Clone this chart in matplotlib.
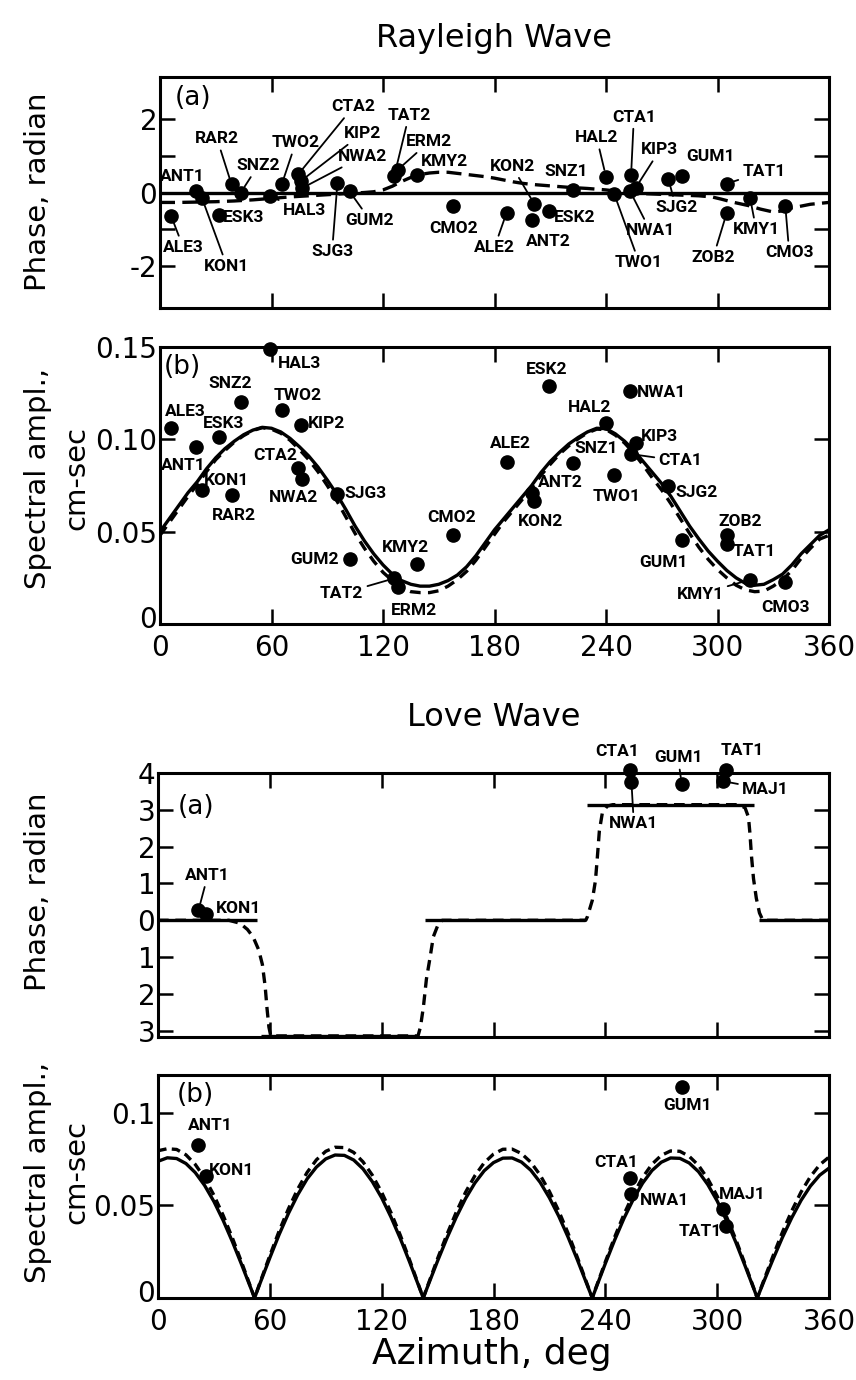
import matplotlib
matplotlib.use("Agg")
import matplotlib.pyplot as plt
import matplotlib.transforms as mtransforms
import numpy as np

plt.rcParams['font.family'] = ['DejaVu Sans']

# ---------------- DATA ----------------
# Rayleigh wave stations (shared azimuths, deg)
R_STA = ["ALE3", "ANT1", "KON1", "ESK3", "RAR2", "SNZ2", "HAL3", "TWO2", "CTA2", "KIP2", "NWA2",
         "SJG3", "GUM2", "TAT2", "ERM2", "KMY2", "CMO2", "ALE2", "KON2", "ANT2", "ESK2", "SNZ1",
         "HAL2", "TWO1", "NWA1", "CTA1", "KIP3", "SJG2", "GUM1", "ZOB2", "TAT1", "KMY1", "CMO3"]
R_AZ = [6, 19.5, 22.5, 31.5, 38.5, 43.5, 59, 65.5, 74.5, 76, 76.5,
        95.5, 102, 126, 128, 138.5, 157.5, 186.5, 201.5, 200, 209.5, 222.5,
        240, 244.5, 253, 253.5, 256, 273.5, 281, 305, 305, 317.5, 336.5]
R_PHASE = [-0.64, 0.05, -0.14, -0.6, 0.22, 0.0, -0.1, 0.22, 0.5, 0.32, 0.12,
           0.27, 0.03, 0.44, 0.62, 0.48, -0.38, -0.55, -0.32, -0.75, -0.51, 0.08,
           0.43, -0.05, 0.03, 0.48, 0.13, 0.38, 0.46, -0.55, 0.24, -0.14, -0.37]
R_AMP = [0.106, 0.096, 0.0725, 0.101, 0.0697, 0.12, 0.149, 0.116, 0.0846, 0.108, 0.0786,
         0.0703, 0.035, 0.0247, 0.0198, 0.0324, 0.0484, 0.0876, 0.0665, 0.071, 0.129, 0.087,
         0.109, 0.0806, 0.126, 0.092, 0.098, 0.075, 0.0455, 0.048, 0.0434, 0.024, 0.0225]

# Rayleigh theoretical phase
R_PH_SOLID_AZ = [0, 360]
R_PH_SOLID = [0, 0]
R_PH_DASH_AZ = [0, 10, 20, 30, 40, 50, 60, 70, 80, 90, 100, 110, 115, 120, 125, 130, 135, 140, 145, 150,
                155, 160, 165, 170, 175, 180, 185, 190, 195, 200, 210, 220, 230, 240, 250, 260, 270, 280,
                290, 297, 302, 308, 317, 323, 330, 335, 340, 350, 360]
R_PH_DASH = [-0.27, -0.27, -0.26, -0.25, -0.23, -0.2, -0.16, -0.12, -0.09, -0.06, -0.03, 0.0, 0.02, 0.07,
             0.17, 0.3, 0.41, 0.49, 0.53, 0.55, 0.55, 0.52, 0.49, 0.46, 0.43, 0.39, 0.34, 0.29, 0.25, 0.22,
             0.18, 0.14, 0.11, 0.07, 0.01, -0.03, -0.05, -0.07, -0.09, -0.12, -0.18, -0.26, -0.36, -0.45,
             -0.53, -0.5, -0.42, -0.32, -0.27]

# Rayleigh theoretical amplitude (5-degree grid)
R_AMP_AZ = [0, 5, 10, 15, 20, 25, 30, 35, 40, 45, 50, 55, 60, 65, 70, 75, 80, 85, 90, 95,
            100, 105, 110, 115, 120, 125, 130, 135, 140, 145, 150, 155, 160, 165, 170, 175, 180,
            185, 190, 195, 200, 205, 210, 215, 220, 225, 230, 235, 240, 245, 250, 255, 260, 265,
            270, 275, 280, 285, 290, 295, 300, 305, 310, 315, 320, 325, 330, 335, 340, 345, 350,
            355, 360]
R_AMP_SOLID = [0.050, 0.057, 0.064, 0.071, 0.077, 0.084, 0.090, 0.095, 0.099, 0.1025, 0.105, 0.1065,
               0.106, 0.104, 0.1005, 0.096, 0.091, 0.085, 0.078, 0.0705, 0.062, 0.053, 0.045, 0.038,
               0.032, 0.027, 0.0235, 0.0215, 0.0205, 0.0205, 0.0215, 0.0235, 0.0265, 0.031, 0.037,
               0.044, 0.051, 0.057, 0.063, 0.069, 0.075, 0.082, 0.088, 0.093, 0.0975, 0.101, 0.104,
               0.106, 0.1058, 0.103, 0.099, 0.094, 0.088, 0.082, 0.076, 0.069, 0.061, 0.053, 0.046,
               0.0395, 0.034, 0.029, 0.025, 0.022, 0.021, 0.0215, 0.024, 0.027, 0.032, 0.038, 0.043,
               0.048, 0.051]
R_AMP_DASH = [0.048, 0.055, 0.062, 0.069, 0.0755, 0.0825, 0.089, 0.094, 0.0985, 0.102, 0.1048, 0.1063,
              0.1055, 0.1033, 0.0995, 0.0945, 0.089, 0.0825, 0.075, 0.067, 0.058, 0.049, 0.041, 0.034,
              0.028, 0.0235, 0.0195, 0.0175, 0.017, 0.017, 0.018, 0.0205, 0.024, 0.0285, 0.0345,
              0.0415, 0.0485, 0.0555, 0.0615, 0.0675, 0.0735, 0.0805, 0.0865, 0.092, 0.0965, 0.1003,
              0.1035, 0.1055, 0.1053, 0.1023, 0.098, 0.0925, 0.086, 0.079, 0.0725, 0.065, 0.057,
              0.049, 0.0415, 0.035, 0.0295, 0.025, 0.021, 0.0185, 0.0175, 0.0178, 0.0205, 0.024,
              0.029, 0.0355, 0.041, 0.046, 0.048]

# Love wave stations
L_STA = ["ANT1", "KON1", "CTA1", "NWA1", "GUM1", "TAT1", "MAJ1"]
L_AZ = [21.7, 26, 253, 254, 281, 305, 303]
L_PHASE = [0.27, 0.18, 4.08, 3.76, 3.7, 4.08, 3.78]
L_AMP = [0.0828, 0.066, 0.065, 0.056, 0.114, 0.0389, 0.0478]

# Love theoretical phase
L_PH_SOLID_AZ = [0, 53, np.nan, 55, 138, np.nan, 143.5, 229.3, np.nan, 230.4, 320, np.nan, 322.7, 360]
L_PH_SOLID = [0, 0, np.nan, -3.14, -3.14, np.nan, 0, 0, np.nan, 3.14, 3.14, np.nan, 0, 0]
L_PH_DASH_AZ = [0, 38, 44, 48, 51, 54, 56, 57.5, 58.5, 59.5, 60.5, 139.5, 140.8, 142.4, 144, 146, 147.7,
                150.4, 152.5, 229.5, 230.4, 233, 234.7, 235.7, 236.8, 238.4, 241, 244, 312, 315, 316.8,
                317.6, 318.4, 319.5, 321, 322.7, 324.5, 360]
L_PH_DASH = [0, 0, -0.08, -0.25, -0.45, -0.8, -1.2, -1.8, -2.4, -2.9, -3.14, -3.14, -2.9, -2.35, -1.6,
             -1.0, -0.45, -0.1, 0, 0, 0.1, 0.54, 1.08, 1.7, 2.43, 2.92, 3.1, 3.14, 3.14, 3.05, 2.8, 2.35,
             1.75, 1.13, 0.6, 0.2, 0, 0]

# Love theoretical amplitude
L_AMP_AZ = [0, 5, 10, 15, 20, 25, 30, 35, 40, 45, 50, 51.8,
            55, 60, 65, 70, 75, 80, 85, 90, 95, 100, 105, 110, 115, 120, 125, 130, 135, 140, 142.3,
            145, 150, 155, 160, 165, 170, 175, 180, 185, 190, 195, 200, 205, 210, 215, 220, 225, 230, 233,
            235, 240, 245, 250, 255, 260, 265, 270, 275, 280, 285, 290, 295, 300, 305, 310, 315, 320, 321.5,
            325, 330, 335, 340, 345, 350, 355, 360]
L_AMP_SOLID = [0.0738, 0.0757, 0.0753, 0.0726, 0.0677, 0.0608, 0.0521, 0.0418, 0.0302, 0.0177, 0.0048, 0.0,
               0.0086, 0.0217, 0.0343, 0.0457, 0.0558, 0.0643, 0.0707, 0.0751, 0.0772, 0.0770, 0.0745,
               0.0697, 0.0628, 0.0541, 0.0437, 0.0321, 0.0194, 0.0062, 0.0,
               0.0071, 0.0200, 0.0323, 0.0436, 0.0537, 0.0621, 0.0687, 0.0731, 0.0755, 0.0756, 0.0734,
               0.0690, 0.0625, 0.0541, 0.0442, 0.0329, 0.0206, 0.0077, 0.0,
               0.0054, 0.0186, 0.0313, 0.0430, 0.0533, 0.0620, 0.0688, 0.0733, 0.0756, 0.0754, 0.0729,
               0.0682, 0.0612, 0.0524, 0.0419, 0.0301, 0.0173, 0.0041, 0.0,
               0.0088, 0.0210, 0.0327, 0.0433, 0.0527, 0.0604, 0.0663, 0.0701]
L_AMP_DASH = [0.0795, 0.0806, 0.0802, 0.0773, 0.0721, 0.0648, 0.0555, 0.0445, 0.0322, 0.0189, 0.0051, 0.0,
              0.0091, 0.0229, 0.0362, 0.0482, 0.0589, 0.0678, 0.0746, 0.0792, 0.0814, 0.0812, 0.0786,
              0.0735, 0.0663, 0.0571, 0.0461, 0.0339, 0.0205, 0.0065, 0.0,
              0.0075, 0.0213, 0.0343, 0.0463, 0.0571, 0.0660, 0.0730, 0.0777, 0.0803, 0.0804, 0.0780,
              0.0733, 0.0664, 0.0575, 0.0470, 0.0350, 0.0219, 0.0082, 0.0,
              0.0057, 0.0195, 0.0329, 0.0452, 0.0560, 0.0651, 0.0722, 0.0770, 0.0794, 0.0792, 0.0765,
              0.0716, 0.0643, 0.0550, 0.0440, 0.0316, 0.0182, 0.0043, 0.0,
              0.0095, 0.0228, 0.0355, 0.0470, 0.0572, 0.0655, 0.0719, 0.0761]

AZ_TICKS = [0, 60, 120, 180, 240, 300, 360]
AZ_TICKLABELS = ["0", "60", "120", "180", "240", "300", "360"]

# ---------------- LABEL LAYOUT (text centre, leader line) ----------------
R_PH_LABELS = [("ALE3", 12.5, -1.49, True), ("ANT1", 12, 0.44, False), ("KON1", 36, -2.0, True),
               ("ESK3", 45, -0.68, False), ("RAR2", 30.7, 1.46, True), ("SNZ2", 52.8, 0.73, True),
               ("HAL3", 77.5, -0.5, True), ("TWO2", 73, 1.35, True), ("CTA2", 104, 2.33, True),
               ("KIP2", 108.7, 1.6, True), ("NWA2", 109, 0.98, True), ("SJG3", 92.6, -1.6, True),
               ("GUM2", 113, -0.75, True), ("TAT2", 134, 2.1, True), ("ERM2", 144.8, 1.38, True),
               ("KMY2", 152.8, 0.84, True), ("CMO2", 158, -0.97, False), ("ALE2", 180, -1.49, True),
               ("KON2", 189.5, 0.71, True), ("ANT2", 209, -1.33, False), ("ESK2", 223, -0.68, False),
               ("SNZ1", 218.5, 0.57, False), ("HAL2", 235, 1.49, True), ("CTA1", 255, 2.05, True),
               ("KIP3", 269, 1.16, True), ("NWA1", 263.7, -1.03, True), ("TWO1", 257.8, -1.9, True),
               ("SJG2", 277.7, -0.41, True), ("GUM1", 296, 0.97, False), ("TAT1", 325, 0.57, True),
               ("ZOB2", 297.7, -1.76, True), ("KMY1", 320.8, -1.0, True), ("CMO3", 338.6, -1.63, True)]
R_AMP_LABELS = [("HAL3", 74.8, 0.141, False), ("SNZ2", 38, 0.130, False), ("TWO2", 74.3, 0.1236, False),
                ("ALE3", 13.8, 0.115, False), ("ESK3", 34.3, 0.1088, False), ("KIP2", 89.7, 0.1088, False),
                ("ANT1", 12.4, 0.0857, False), ("CTA2", 62, 0.0912, False), ("KON1", 36, 0.0775, False),
                ("RAR2", 39.7, 0.0588, False), ("NWA2", 71.7, 0.0687, False), ("SJG3", 110.7, 0.0705, False),
                ("CMO2", 157, 0.0577, False), ("GUM2", 83.4, 0.0348, False), ("KMY2", 131.9, 0.0412, False),
                ("TAT2", 97.8, 0.0165, True), ("ERM2", 136.7, 0.0073, False), ("ESK2", 208.3, 0.138, False),
                ("NWA1", 270, 0.1254, False), ("HAL2", 231, 0.117, False), ("ALE2", 188.4, 0.0977, False),
                ("SNZ1", 234.5, 0.095, False), ("KIP3", 268.6, 0.1016, False), ("CTA1", 280, 0.0883, True),
                ("ANT2", 215.6, 0.0766, False), ("TWO1", 245.8, 0.069, False), ("KON2", 204.5, 0.0555, False),
                ("SJG2", 288.8, 0.0714, False), ("GUM1", 271.2, 0.0335, False), ("ZOB2", 312, 0.0555, False),
                ("TAT1", 319.7, 0.039, False), ("KMY1", 290.6, 0.0161, True), ("CMO3", 336.4, 0.0088, False)]
L_PH_LABELS = [("ANT1", 26.7, 1.22, True), ("KON1", 43.2, 0.32, False), ("CTA1", 246.4, 4.58, False),
               ("GUM1", 279, 4.41, True), ("TAT1", 313.4, 4.62, False), ("MAJ1", 325.9, 3.56, True),
               ("NWA1", 255.3, 2.62, True)]
L_AMP_LABELS = [("ANT1", 28, 0.0932, False), ("KON1", 39.6, 0.069, False), ("GUM1", 284, 0.104, False),
                ("CTA1", 246, 0.073, False), ("NWA1", 272, 0.0529, False), ("MAJ1", 313.4, 0.0559, False),
                ("TAT1", 291, 0.036, False)]

# ---------------- FIGURE ----------------
W, H = 856, 1380
fig = plt.figure(figsize=(W / 100, H / 100), dpi=100)


def add_ax(l, r, t, b):
    return fig.add_axes([l / W, 1 - b / H, (r - l) / W, (b - t) / H])


ax1 = add_ax(160, 829, 77, 308)
ax2 = add_ax(160, 829, 347, 624)
ax3 = add_ax(158, 829, 773, 1037)
ax4 = add_ax(158, 829, 1075, 1298)

LW = 2.4
STA_FONT = dict(family=['Roboto', 'DejaVu Sans'], weight='bold', size=12.5)


def style(ax):
    for s in ax.spines.values():
        s.set_linewidth(2.2)
    ax.tick_params(direction='in', length=11, width=1.8, top=True, right=True,
                   labelsize=20, pad=7)
    ax.tick_params(axis='y', pad=2)
    ax.set_xlim(0, 360)


def points_and_labels(ax, sta, az, val, labels):
    ax.plot(az, val, 'o', color='k', ms=9.5, clip_on=False, zorder=6)
    lut = {s: (a, v) for s, a, v in zip(sta, az, val)}
    for name, tx, ty, leader in labels:
        a, v = lut[name]
        ap = dict(arrowstyle='-', lw=1.3, color='k', shrinkA=1, shrinkB=5) if leader else None
        ax.annotate(name, xy=(a, v), xytext=(tx, ty), ha='center', va='center',
                    arrowprops=ap, annotation_clip=False, zorder=7, **STA_FONT)


def lift_zero_label(ax):
    # nudge the y "0" label up a few pixels, clear of the x "0" label (as in the original)
    lab = ax.get_yticklabels()[0]
    lab.set_transform(lab.get_transform() +
                      mtransforms.ScaledTranslation(0, 7 / 100, fig.dpi_scale_trans))


# (a) Rayleigh phase
style(ax1)
ax1.plot(R_PH_SOLID_AZ, R_PH_SOLID, color='k', lw=LW, solid_capstyle='butt')
ax1.plot(R_PH_DASH_AZ, R_PH_DASH, color='k', lw=LW, dashes=(4.5, 2.2))
points_and_labels(ax1, R_STA, R_AZ, R_PHASE, R_PH_LABELS)
ax1.set_ylim(-3.14, 3.14)
ax1.set_xticks(AZ_TICKS[1:-1])
ax1.tick_params(labelbottom=False)
ax1.set_yticks([-2, -1, 0, 1, 2])
ax1.set_yticklabels(["-2", "", "0", "", "2"])
ax1.text(0.05, 0.91, "(a)", transform=ax1.transAxes, fontsize=19, ha='center', va='center')

# (b) Rayleigh amplitude
style(ax2)
ax2.plot(R_AMP_AZ, R_AMP_SOLID, color='k', lw=LW)
ax2.plot(R_AMP_AZ, R_AMP_DASH, color='k', lw=LW, dashes=(3.2, 2.2))
points_and_labels(ax2, R_STA, R_AZ, R_AMP, R_AMP_LABELS)
ax2.set_ylim(0, 0.15)
ax2.set_xticks(AZ_TICKS)
ax2.set_xticklabels(AZ_TICKLABELS)
ax2.set_yticks([0, 0.05, 0.10, 0.15])
ax2.set_yticklabels(["0", "0.05", "0.10", "0.15"])
lift_zero_label(ax2)
ax2.text(0.034, 0.929, "(b)", transform=ax2.transAxes, fontsize=19, ha='center', va='center')

# (a) Love phase
style(ax3)
ax3.plot(L_PH_SOLID_AZ, L_PH_SOLID, color='k', lw=LW, solid_capstyle='butt')
ax3.plot(L_PH_DASH_AZ, L_PH_DASH, color='k', lw=LW, dashes=(3.2, 2.0))
points_and_labels(ax3, L_STA, L_AZ, L_PHASE, L_PH_LABELS)
ax3.set_ylim(-3.17, 4.0)
ax3.set_xticks(AZ_TICKS[1:-1])
ax3.tick_params(labelbottom=False)
ax3.set_yticks([-3, -2, -1, 0, 1, 2, 3, 4])
ax3.set_yticklabels(["3", "2", "1", "0", "1", "2", "3", "4"])
ax3.text(0.056, 0.871, "(a)", transform=ax3.transAxes, fontsize=19, ha='center', va='center')

# (b) Love amplitude
style(ax4)
ax4.plot(L_AMP_AZ, L_AMP_SOLID, color='k', lw=LW)
ax4.plot(L_AMP_AZ, L_AMP_DASH, color='k', lw=LW, dashes=(2.6, 1.6))
points_and_labels(ax4, L_STA, L_AZ, L_AMP, L_AMP_LABELS)
ax4.set_ylim(0, 0.1204)
ax4.set_xticks(AZ_TICKS)
ax4.set_xticklabels(AZ_TICKLABELS)
ax4.set_yticks([0, 0.05, 0.1])
ax4.set_yticklabels(["0", "0.05", "0.1"])
lift_zero_label(ax4)
ax4.text(0.056, 0.91, "(b)", transform=ax4.transAxes, fontsize=19, ha='center', va='center')

# Titles and axis labels
fig.text(494 / W, 1 - 38 / H, "Rayleigh Wave", fontsize=23, ha='center', va='center')
fig.text(494 / W, 1 - 718 / H, "Love Wave", fontsize=23, ha='center', va='center')
fig.text(492 / W, 1 - 1354 / H, "Azimuth, deg", fontsize=26, ha='center', va='center')
for yc in (192, 892):
    fig.text(38 / W, 1 - yc / H, "Phase, radian", fontsize=21, rotation=90, ha='center', va='center')
for yc in (478, 1172):
    fig.text(38 / W, 1 - yc / H, "Spectral ampl.,", fontsize=21, rotation=90, ha='center', va='center')
    fig.text(76 / W, 1 - yc / H, "cm-sec", fontsize=21, rotation=90, ha='center', va='center')

fig.savefig("out.png", dpi=100)
